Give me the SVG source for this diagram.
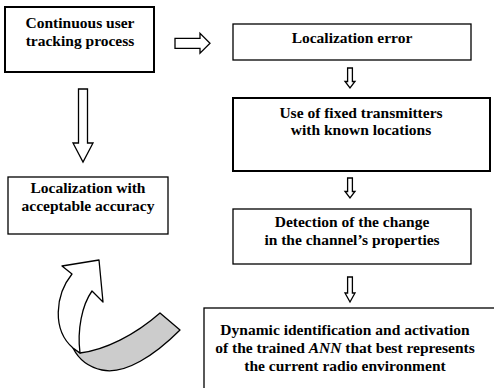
<svg xmlns="http://www.w3.org/2000/svg" width="494" height="388" viewBox="0 0 494 388">
<style>
.box{fill:#fff;stroke:#000}
.thick{stroke-width:2}
.thin{stroke-width:1.3}
.t{font-family:'Liberation Serif',serif;font-weight:bold;font-size:15.5px;text-anchor:middle;fill:#000}
.arr{fill:#fff;stroke:#000;stroke-width:1.3;stroke-linejoin:miter}
</style>
<rect width="494" height="388" fill="#fff"/>
<g id="n1"><rect class="box thick" x="5" y="7" width="149" height="65"/>
<text class="t" x="80" y="28">Continuous user</text><text class="t" x="80" y="46">tracking process</text></g>
<g id="n2"><rect class="box thin" x="233" y="24" width="238" height="36"/>
<text class="t" x="352" y="43">Localization error</text></g>
<g id="n3"><rect class="box thick" x="233" y="98" width="257" height="73"/>
<text class="t" x="361" y="118">Use of fixed transmitters</text><text class="t" x="361" y="135">with known locations</text></g>
<g id="n4"><rect class="box thin" x="233" y="209" width="238" height="55"/>
<text class="t" x="352" y="227">Detection of the change</text><text class="t" x="352" y="245">in the channel’s properties</text></g>
<g id="n5"><rect class="box thin" x="204" y="308" width="300" height="100"/>
<text class="t" x="345" y="335">Dynamic identification and activation</text>
<text class="t" x="345" y="353">of the trained <tspan font-style="italic">ANN</tspan> that best represents</text>
<text class="t" x="345" y="371">the current radio environment</text></g>
<g id="n6"><rect class="box thin" x="8" y="177" width="160" height="57"/>
<text class="t" x="88" y="193">Localization with</text><text class="t" x="88" y="211">acceptable accuracy</text></g>
<g id="connectors">
<path class="arr" d="M175,38.3 H200 V33.3 L210,43.3 L200,53.3 V48.3 H175 Z"/>
<path class="arr" d="M347.6,68 V81.5 H345 L350,88 L355,81.5 H352.4 V68 Z"/>
<path class="arr" d="M347.6,178 V191.5 H345 L350,198 L355,191.5 H352.4 V178 Z"/>
<path class="arr" d="M347.6,277 V293 H345 L350,302 L355,293 H352.4 V277 Z"/>
<path class="arr" d="M78.5,89 H87.5 V143 H93 L83,162 L73,143 H78.5 Z"/>
<path d="M80,353 C105,350 135,335 160,313 L180,330 C155,355 125,375 102,370 C88,367 78,358 73,348 Z" fill="#cccccc" stroke="#000" stroke-width="1.3" stroke-linejoin="round"/>
<path d="M80,353 C77,330 82,305 92,291 L103,302 L99,260 L62,266 L72,274 C55,295 52,330 73,348 Z" fill="#fff" stroke="#000" stroke-width="1.3" stroke-linejoin="round"/>
</g>
</svg>
